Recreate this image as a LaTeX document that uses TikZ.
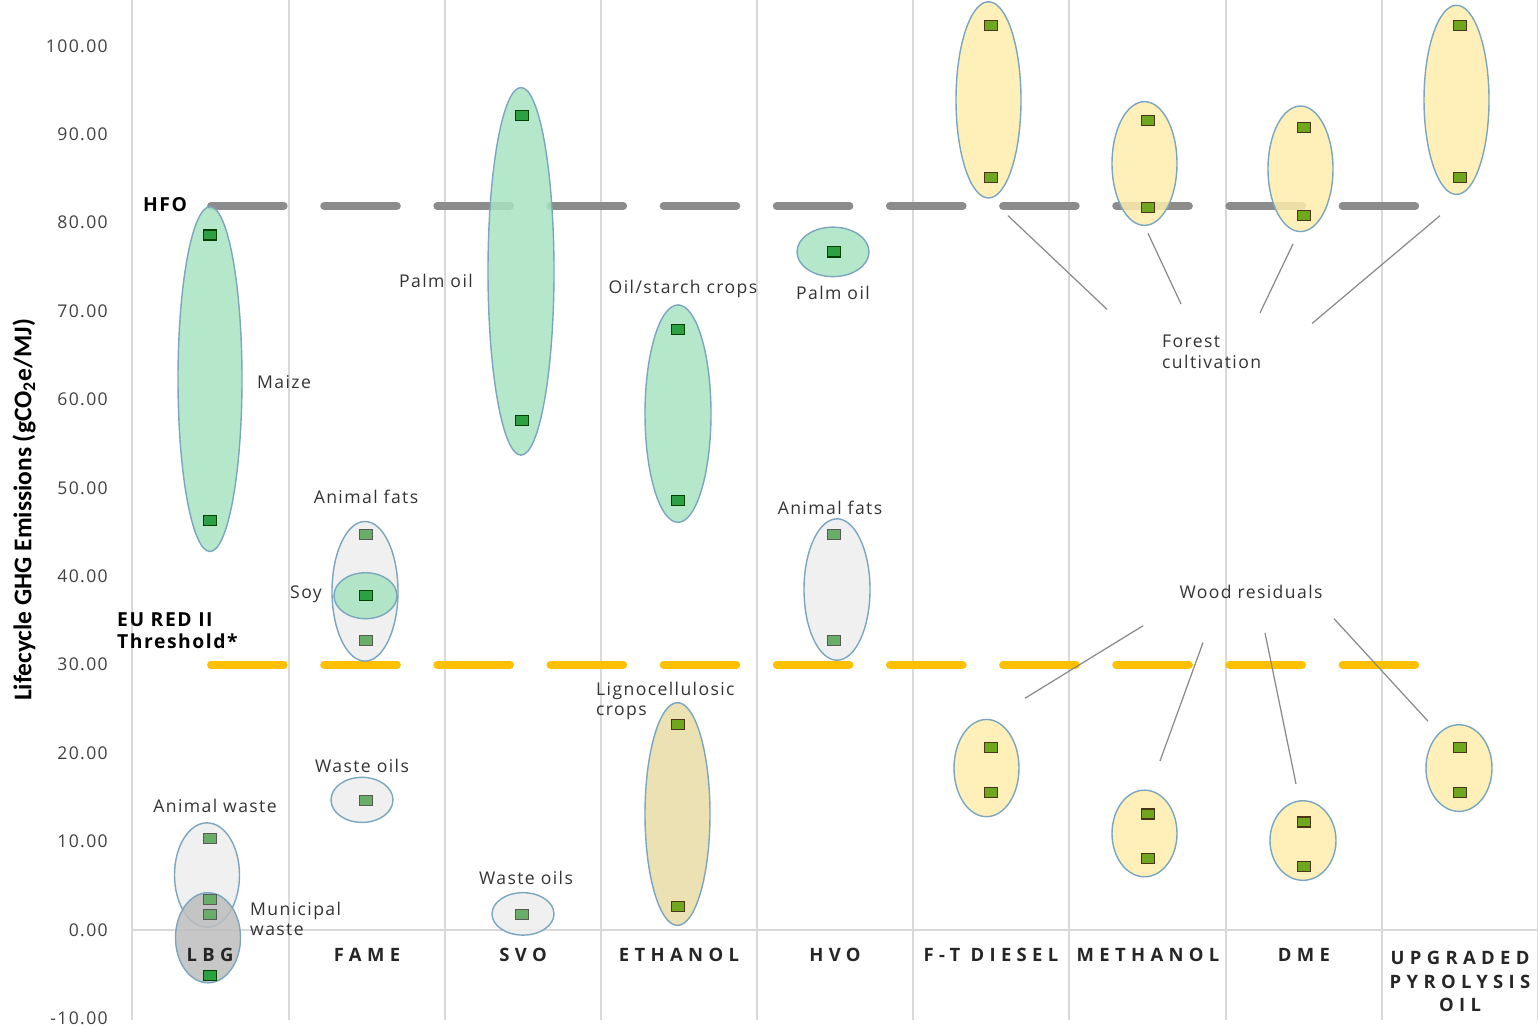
\documentclass[tikz,border=0pt]{standalone}
\usepackage{fontspec}
\setmainfont{Open Sans}[LetterSpace=8]
\newfontfamily\titlefont{Carlito}
\usepackage{tikz}
\usetikzlibrary{positioning}
\definecolor{gridgrey}{HTML}{D9D9D9}
\definecolor{txtgrey}{HTML}{333333}
\definecolor{hfogrey}{HTML}{8C8C8C}
\definecolor{redgold}{HTML}{FFC000}
\definecolor{rimblue}{HTML}{7AA6BF}
\definecolor{mintfill}{HTML}{A8E3C2}
\definecolor{ashfill}{HTML}{EDEDED}
\definecolor{darkash}{HTML}{BDBDBD}
\definecolor{strawfill}{HTML}{FFEDAE}
\definecolor{tanfill}{HTML}{E8DCA6}
\definecolor{leafgreen}{HTML}{2EA044}
\definecolor{palegreen}{HTML}{68AE68}
\definecolor{olivegreen}{HTML}{6FA81E}
\definecolor{leadgrey}{HTML}{8A8A8A}
\tikzset{
    emission chart/.style={
            x=0.02cm, y=0.1768cm,
            font=\fontsize{10}{11.5}\selectfont, text=txtgrey,
            grid line/.style={draw=gridgrey, line width=1.1pt},
            limit line/.style={line width=4.5pt, line cap=round,
                    dash pattern=on 41.4pt off 23pt},
            blob/.style={draw=rimblue, line width=0.8pt, fill opacity=0.85},
            mk/.style={draw, line width=0.7pt, inner sep=0pt,
                    minimum width=7.4pt, minimum height=5.7pt},
            mk green/.style={mk, fill=leafgreen, draw=black!75!green},
            mk pale/.style={mk, fill=palegreen, draw=black!65},
            mk olive/.style={mk, fill=olivegreen, draw=black!60!brown},
            leader/.style={draw=leadgrey, line width=0.7pt},
            tick label/.style={anchor=east, text=black!75},
            note bold/.style={font=\fontsize{11}{12.5}\selectfont\bfseries, text=black},
            cat label/.style={font=\fontsize{10.5}{13.3}\selectfont\bfseries\addfontfeature{LetterSpace=29},
                    text=black!85, align=center}
        }
    }

\begin{document}
\begin{tikzpicture}[emission chart]
    \useasboundingbox (0,-11.09) rectangle (1538,105.2);
    % grid
    \foreach \gx in {132,289,445,601,757,913,1069,1226,1382,1538}
        \draw [grid line] (\gx,105.2) -- (\gx,-10.2);
    \draw [grid line] (132,0) -- (1538,0);
    \foreach \v/\t in {100/100.00,90/90.00,80/80.00,70/70.00,60/60.00,50/50.00,40/40.00,30/30.00,20/20.00,10/10.00,0/0.00,-10/-10.00}
        \node [tick label] at (114,\v) {\t};
    \node (ytitle) [rotate=90, font=\titlefont\fontsize{14.5}{16}\selectfont\bfseries, text=black]
        at (24,47.5) {Lifecycle GHG Emissions (gCO\textsubscript{2}e/MJ)};

    % HFO and threshold lines
    \draw [limit line, draw=hfogrey] (211,81.9) -- (1420,81.9);
    \draw [limit line, draw=redgold] (211,30) -- (1420,30);
    \node (hfo) [note bold] at (165,82) {HFO};
    \node (red2) [note bold, anchor=west, align=left] at (111,33.8) {EU RED II\\Threshold*};

    % ranges
    \draw [blob, fill=mintfill] (210,62.3) ellipse [x radius=32, y radius=19.5];
    \draw [blob, fill=ashfill] (207,6.2) ellipse [x radius=32.5, y radius=5.9];
    \draw [blob, fill=darkash] (208,-0.9) ellipse [x radius=32.5, y radius=5.1];
    \draw [blob, fill=ashfill] (365,38.3) ellipse [x radius=33, y radius=7.9];
    \draw [blob, fill=mintfill] (365.5,37.8) ellipse [x radius=31.5, y radius=2.6];
    \draw [blob, fill=ashfill] (362,14.7) ellipse [x radius=31, y radius=2.55];
    \draw [blob, fill=mintfill] (521,74.5) ellipse [x radius=33, y radius=20.8];
    \draw [blob, fill=ashfill] (523,1.8) ellipse [x radius=31, y radius=2.4];
    \draw [blob, fill=mintfill] (678,58.4) ellipse [x radius=33, y radius=12.3];
    \draw [blob, fill=tanfill] (677.5,13.1) ellipse [x radius=32.5, y radius=12.6];
    \draw [blob, fill=mintfill] (833,76.7) ellipse [x radius=36, y radius=2.8];
    \draw [blob, fill=ashfill] (837,38.5) ellipse [x radius=33, y radius=8];
    \draw [blob, fill=strawfill] (988.5,93.9) ellipse [x radius=32.5, y radius=11.1];
    \draw [blob, fill=strawfill] (986.5,18.3) ellipse [x radius=32.5, y radius=5.5];
    \draw [blob, fill=strawfill] (1144.5,86.7) ellipse [x radius=32.5, y radius=7];
    \draw [blob, fill=strawfill] (1144.5,10.9) ellipse [x radius=32.5, y radius=4.9];
    \draw [blob, fill=strawfill] (1300.5,86.1) ellipse [x radius=32.5, y radius=7.1];
    \draw [blob, fill=strawfill] (1303,10.1) ellipse [x radius=33, y radius=4.5];
    \draw [blob, fill=strawfill] (1456.5,93.9) ellipse [x radius=32.5, y radius=10.7];
    \draw [blob, fill=strawfill] (1459,18.3) ellipse [x radius=33, y radius=4.9];

    % data points
    \foreach \px/\py [count=\i] in {210/78.6,210/46.3,522/92.1,522/57.6,678/67.9,678/48.6,834/76.7,366/37.8,210/-5.2}
        \node (pg\i) [mk green] at (\px,\py) {};
    \foreach \px/\py [count=\i] in {210/10.3,210/3.4,210/1.7,366/44.7,366/32.7,366/14.6,522/1.7,834/44.7,834/32.7}
        \node (pp\i) [mk pale] at (\px,\py) {};
    \foreach \px/\py [count=\i] in {678/23.2,678/2.6,991/102.3,991/85.1,991/20.6,991/15.5,1148/91.6,1148/81.7,1148/13.1,1148/8.1,1304/90.8,1304/80.8,1304/12.2,1304/7.2,1460/102.3,1460/85.1,1460/20.6,1460/15.5}
        \node (po\i) [mk olive] at (\px,\py) {};

    % feedstock labels
    \node (maize) [anchor=west] at (251,62) {Maize};
    \node (palmsvo) at (436,73.4) {Palm oil};
    \node (oilstarch) at (683,72.5) {Oil/starch crops};
    \node (palmhvo) at (833,72.1) {Palm oil};
    \node (fatsfame) at (366,49) {Animal fats};
    \node (soy) at (306,38) {Soy};
    \node (fatshvo) at (830,47.7) {Animal fats};
    \node (ligno) [anchor=west, align=left] at (590,25.9) {Lignocellulosic\\crops};
    \node (wastefame) at (362,18.55) {Waste oils};
    \node (animalwaste) at (215,14) {Animal waste};
    \node (wastesvo) at (526,5.9) {Waste oils};
    \node (municipal) [anchor=west, align=left] at (244,1.25) {Municipal\\waste};
    \node (forest) [anchor=west, align=left] at (1156,65.4) {Forest\\cultivation};
    \node (wood) at (1251,38.2) {Wood residuals};

    % leaders
    \coordinate (fa1) at (1008,80.8);   \coordinate (fb1) at (1107,70.2);
    \coordinate (fa2) at (1148,78.8);   \coordinate (fb2) at (1181,70.8);
    \coordinate (fa3) at (1293,77.6);   \coordinate (fb3) at (1260,69.8);
    \coordinate (fa4) at (1440,80.8);   \coordinate (fb4) at (1312,68.6);
    \coordinate (wa1) at (1143,34.4);   \coordinate (wb1) at (1025,26.2);
    \coordinate (wa2) at (1203,32.5);   \coordinate (wb2) at (1160,19.1);
    \coordinate (wa3) at (1265,33.6);   \coordinate (wb3) at (1296,16.5);
    \coordinate (wa4) at (1334,35.2);   \coordinate (wb4) at (1428,23.6);
    \foreach \k in {1,...,4} {
        \draw [leader] (fa\k) -- (fb\k);
        \draw [leader] (wa\k) -- (wb\k);
    }

    % categories
    \node (lbg) [cat label] at (210,-2.83) {LBG};
    \node (fame) [cat label] at (367,-2.83) {FAME};
    \node (svo) [cat label] at (523,-2.83) {SVO};
    \node (ethanol) [cat label] at (679,-2.83) {ETHANOL};
    \node (hvo) [cat label] at (835,-2.83) {HVO};
    \node (ftd) [cat label] at (991,-2.83) {F-T DIESEL};
    \node (methanol) [cat label] at (1148,-2.83) {METHANOL};
    \node (dme) [cat label] at (1304,-2.83) {DME};
    \node (upo) [cat label, anchor=north] at (1460,-1.75) {UPGRADED\\PYROLYSIS\\OIL};
\end{tikzpicture}
\end{document}
